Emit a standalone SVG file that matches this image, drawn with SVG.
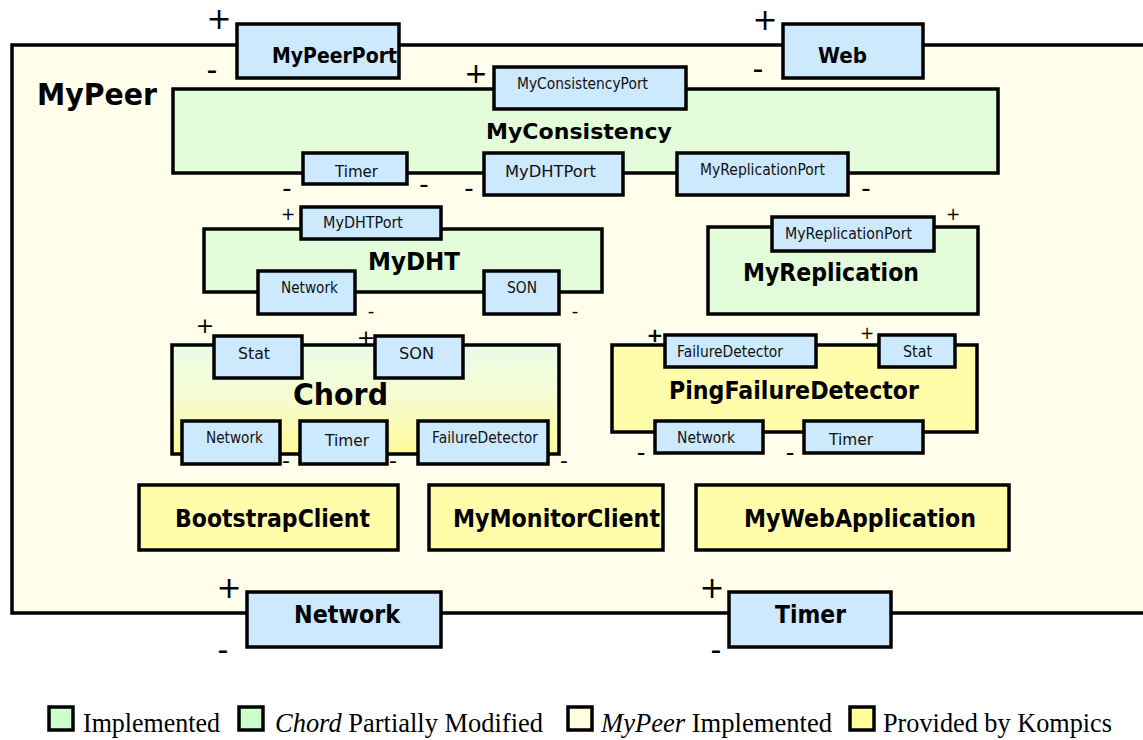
<svg xmlns="http://www.w3.org/2000/svg" width="1143" height="740" viewBox="0 0 1143 740">
  <defs>
    <linearGradient id="chordFill" x1="0" y1="0" x2="0" y2="1">
      <stop offset="0" stop-color="#e9fde9"/>
      <stop offset="0.45" stop-color="#f6fcd2"/>
      <stop offset="1" stop-color="#fdfa98"/>
    </linearGradient>
    <style>
      .box { stroke: #000; stroke-width: 3.5; }
      .port { fill: #cce9fe; }
      .impl { fill: #e3fdda; }
      .kompics { fill: #fffcaa; }
      .peer { fill: #fffeea; }
      .chord { fill: url(#chordFill); }
      .title { font-family: "DejaVu Sans", Verdana, sans-serif; font-weight: bold; fill: #000; }
      .lbl { font-family: "DejaVu Sans", Verdana, sans-serif; font-size: 15px; fill: #111; }
      .sign { font-family: "DejaVu Sans", sans-serif; fill: #000; text-anchor: middle; }
      .legend { font-family: "Liberation Serif", "Times New Roman", serif; font-size: 27px; fill: #000; }
      .key { stroke: #000; stroke-width: 3.5; }
    </style>
  </defs>

  <rect width="1143" height="740" fill="#fff"/>

  <!-- MyPeer composite (runs off the right edge) -->
  <g id="MyPeer">
    <rect class="box peer" x="12" y="45" width="1200" height="568"/>
    <text class="title" x="37" y="105" font-size="30" textLength="120" lengthAdjust="spacingAndGlyphs">MyPeer</text>
  </g>

  <!-- MyConsistency -->
  <g id="MyConsistency">
    <rect class="box impl" x="173" y="89" width="825" height="84"/>
    <text class="title" x="486" y="139" font-size="22" textLength="186" lengthAdjust="spacingAndGlyphs">MyConsistency</text>
  </g>

  <!-- MyDHT -->
  <g id="MyDHT">
    <rect class="box impl" x="204" y="229" width="398" height="63"/>
    <text class="title" x="368" y="270" font-size="24" textLength="92" lengthAdjust="spacingAndGlyphs">MyDHT</text>
  </g>

  <!-- MyReplication -->
  <g id="MyReplication">
    <rect class="box impl" x="708" y="227" width="270" height="87"/>
    <text class="title" x="743" y="281" font-size="25" textLength="176" lengthAdjust="spacingAndGlyphs">MyReplication</text>
  </g>

  <!-- Chord -->
  <g id="Chord">
    <rect class="box chord" x="172" y="345" width="387" height="109"/>
    <text class="title" x="293" y="405" font-size="31" textLength="95" lengthAdjust="spacingAndGlyphs">Chord</text>
  </g>

  <!-- PingFailureDetector -->
  <g id="PingFailureDetector">
    <rect class="box kompics" x="612" y="345" width="365" height="87"/>
    <text class="title" x="669" y="399" font-size="24" textLength="250" lengthAdjust="spacingAndGlyphs">PingFailureDetector</text>
  </g>

  <!-- Leaf components -->
  <g id="BootstrapClient">
    <rect class="box kompics" x="139" y="485" width="259" height="65"/>
    <text class="title" x="175" y="527" font-size="24" textLength="195" lengthAdjust="spacingAndGlyphs">BootstrapClient</text>
  </g>
  <g id="MyMonitorClient">
    <rect class="box kompics" x="429" y="485" width="234" height="65"/>
    <text class="title" x="453" y="527" font-size="24" textLength="207" lengthAdjust="spacingAndGlyphs">MyMonitorClient</text>
  </g>
  <g id="MyWebApplication">
    <rect class="box kompics" x="696" y="485" width="313" height="65"/>
    <text class="title" x="744" y="527" font-size="24" textLength="232" lengthAdjust="spacingAndGlyphs">MyWebApplication</text>
  </g>

  <!-- Ports of MyPeer -->
  <g id="port-MyPeerPort">
    <rect class="box port" x="237" y="24" width="162" height="54"/>
    <text class="title" x="272" y="63" font-size="21" textLength="125" lengthAdjust="spacingAndGlyphs">MyPeerPort</text>
  </g>
  <g id="port-Web">
    <rect class="box port" x="783" y="24" width="140" height="54"/>
    <text class="title" x="818" y="63" font-size="21" textLength="49" lengthAdjust="spacingAndGlyphs">Web</text>
  </g>
  <g id="port-Network">
    <rect class="box port" x="247" y="592" width="194" height="55"/>
    <text class="title" x="294" y="623" font-size="24" textLength="106" lengthAdjust="spacingAndGlyphs">Network</text>
  </g>
  <g id="port-Timer">
    <rect class="box port" x="729" y="592" width="162" height="55"/>
    <text class="title" x="775" y="623" font-size="24" textLength="71" lengthAdjust="spacingAndGlyphs">Timer</text>
  </g>

  <!-- Ports of MyConsistency -->
  <g id="port-MyConsistencyPort">
    <rect class="box port" x="494" y="67" width="192" height="42"/>
    <text class="lbl" x="517" y="89" textLength="131" lengthAdjust="spacingAndGlyphs">MyConsistencyPort</text>
  </g>
  <g id="port-MyConsistency-Timer">
    <rect class="box port" x="303" y="153" width="104" height="31"/>
    <text class="lbl" x="335" y="177" font-size="16" textLength="43" lengthAdjust="spacingAndGlyphs">Timer</text>
  </g>
  <g id="port-MyConsistency-MyDHTPort">
    <rect class="box port" x="484" y="153" width="139" height="42"/>
    <text class="lbl" x="505" y="177" font-size="16" textLength="91" lengthAdjust="spacingAndGlyphs">MyDHTPort</text>
  </g>
  <g id="port-MyConsistency-MyReplicationPort">
    <rect class="box port" x="677" y="153" width="171" height="42"/>
    <text class="lbl" x="700" y="175" textLength="125" lengthAdjust="spacingAndGlyphs">MyReplicationPort</text>
  </g>

  <!-- Ports of MyDHT -->
  <g id="port-MyDHT-MyDHTPort">
    <rect class="box port" x="301" y="207" width="140" height="32"/>
    <text class="lbl" x="323" y="228" textLength="80" lengthAdjust="spacingAndGlyphs">MyDHTPort</text>
  </g>
  <g id="port-MyDHT-Network">
    <rect class="box port" x="258" y="271" width="97" height="43"/>
    <text class="lbl" x="281" y="293" textLength="57" lengthAdjust="spacingAndGlyphs">Network</text>
  </g>
  <g id="port-MyDHT-SON">
    <rect class="box port" x="484" y="271" width="75" height="43"/>
    <text class="lbl" x="507" y="293" textLength="30" lengthAdjust="spacingAndGlyphs">SON</text>
  </g>

  <!-- Port of MyReplication -->
  <g id="port-MyReplication-MyReplicationPort">
    <rect class="box port" x="772" y="217" width="162" height="34"/>
    <text class="lbl" x="785" y="239" textLength="127" lengthAdjust="spacingAndGlyphs">MyReplicationPort</text>
  </g>

  <!-- Ports of Chord -->
  <g id="port-Chord-Stat">
    <rect class="box port" x="214" y="336" width="88" height="42"/>
    <text class="lbl" x="238" y="359" font-size="16" textLength="32" lengthAdjust="spacingAndGlyphs">Stat</text>
  </g>
  <g id="port-Chord-SON">
    <rect class="box port" x="375" y="336" width="88" height="42"/>
    <text class="lbl" x="399" y="359" font-size="16" textLength="35" lengthAdjust="spacingAndGlyphs">SON</text>
  </g>
  <g id="port-Chord-Network">
    <rect class="box port" x="182" y="421" width="98" height="43"/>
    <text class="lbl" x="206" y="443" textLength="57" lengthAdjust="spacingAndGlyphs">Network</text>
  </g>
  <g id="port-Chord-Timer">
    <rect class="box port" x="300" y="421" width="87" height="43"/>
    <text class="lbl" x="325" y="446" font-size="16" textLength="44" lengthAdjust="spacingAndGlyphs">Timer</text>
  </g>
  <g id="port-Chord-FailureDetector">
    <rect class="box port" x="418" y="421" width="130" height="43"/>
    <text class="lbl" x="432" y="443" textLength="106" lengthAdjust="spacingAndGlyphs">FailureDetector</text>
  </g>

  <!-- Ports of PingFailureDetector -->
  <g id="port-PFD-FailureDetector">
    <rect class="box port" x="665" y="335" width="151" height="32"/>
    <text class="lbl" x="677" y="357" textLength="106" lengthAdjust="spacingAndGlyphs">FailureDetector</text>
  </g>
  <g id="port-PFD-Stat">
    <rect class="box port" x="879" y="335" width="76" height="32"/>
    <text class="lbl" x="903" y="357" textLength="29" lengthAdjust="spacingAndGlyphs">Stat</text>
  </g>
  <g id="port-PFD-Network">
    <rect class="box port" x="655" y="421" width="108" height="32"/>
    <text class="lbl" x="677" y="443" textLength="58" lengthAdjust="spacingAndGlyphs">Network</text>
  </g>
  <g id="port-PFD-Timer">
    <rect class="box port" x="804" y="421" width="119" height="32"/>
    <text class="lbl" x="829" y="445" font-size="16" textLength="44" lengthAdjust="spacingAndGlyphs">Timer</text>
  </g>

  <!-- Port polarity marks -->
  <g id="connectors">
    <text class="sign" x="219" y="29" font-size="30">+</text>
    <text class="sign" x="212" y="80" font-size="30">-</text>
    <text class="sign" x="765" y="30" font-size="30">+</text>
    <text class="sign" x="758" y="79" font-size="30">-</text>
    <text class="sign" x="229" y="598" font-size="30">+</text>
    <text class="sign" x="223" y="660" font-size="30">-</text>
    <text class="sign" x="712" y="598" font-size="30">+</text>
    <text class="sign" x="716" y="660" font-size="30">-</text>

    <text class="sign" x="476" y="83" font-size="28">+</text>
    <text class="sign" x="287" y="197" font-size="26">-</text>
    <text class="sign" x="424" y="193" font-size="26">-</text>
    <text class="sign" x="469" y="197" font-size="26">-</text>
    <text class="sign" x="866" y="197" font-size="26">-</text>

    <text class="sign" x="288" y="220" font-size="17">+</text>
    <text class="sign" x="371" y="317" font-size="18">-</text>
    <text class="sign" x="575" y="317" font-size="18">-</text>
    <text class="sign" x="953" y="220" font-size="17">+</text>

    <text class="sign" x="205" y="333" font-size="22">+</text>
    <text class="sign" x="366" y="345" font-size="22">+</text>
    <text class="sign" x="286" y="468" font-size="22">-</text>
    <text class="sign" x="393" y="468" font-size="22">-</text>
    <text class="sign" x="564" y="468" font-size="22">-</text>

    <text class="sign" x="655" y="342" font-size="20" font-weight="bold">+</text>
    <text class="sign" x="867" y="339" font-size="17">+</text>
    <text class="sign" x="641" y="461" font-size="24">-</text>
    <text class="sign" x="790" y="461" font-size="24">-</text>
  </g>

  <!-- Legend -->
  <g id="legend">
    <rect class="key" x="49" y="707" width="24" height="23" fill="#ccffcc"/>
    <text class="legend" x="83" y="732" textLength="137" lengthAdjust="spacingAndGlyphs">Implemented</text>
    <rect class="key" x="239" y="707" width="24" height="23" fill="#ccffcc"/>
    <text class="legend" x="275" y="732" textLength="268" lengthAdjust="spacingAndGlyphs"><tspan font-style="italic">Chord</tspan> Partially Modified</text>
    <rect class="key" x="568" y="707" width="24" height="23" fill="#ffffdd"/>
    <text class="legend" x="601" y="732" textLength="231" lengthAdjust="spacingAndGlyphs"><tspan font-style="italic">MyPeer</tspan> Implemented</text>
    <rect class="key" x="850" y="707" width="24" height="23" fill="#ffff99"/>
    <text class="legend" x="883" y="732" textLength="229" lengthAdjust="spacingAndGlyphs">Provided by Kompics</text>
  </g>
</svg>
